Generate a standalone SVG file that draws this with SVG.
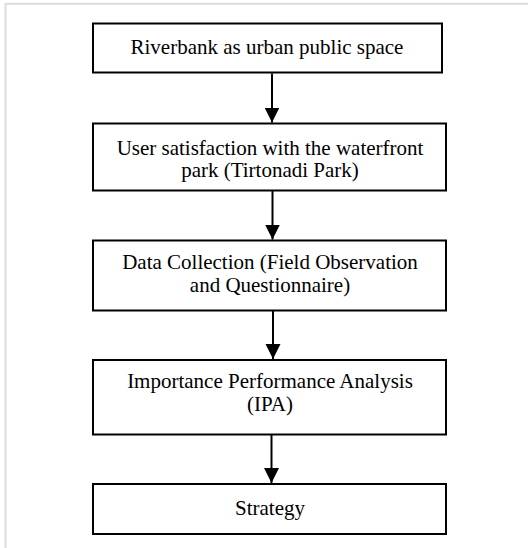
<svg xmlns="http://www.w3.org/2000/svg" width="528" height="548" viewBox="0 0 528 548">
<style>
.box{fill:#fff;stroke:#000;stroke-width:2}
.t{font-family:"Liberation Serif","Times New Roman",serif;font-size:21px;fill:#000;text-anchor:middle}
.c{stroke:#000;stroke-width:2;fill:none}
</style>
<defs>
<marker id="ah" markerUnits="userSpaceOnUse" markerWidth="16" markerHeight="16" viewBox="0 0 16 16" refX="15" refY="8" orient="auto">
<path d="M0,0.5 L15,8 L0,15.5 Z" fill="#000"/>
</marker>
</defs>
<rect width="528" height="548" fill="#fff"/>
<path d="M5.5,548 V3.7 H528" fill="none" stroke="#dcdcdc" stroke-width="2"/>
<g id="connectors">
<line class="c" x1="272" y1="73.5" x2="272" y2="122.5" marker-end="url(#ah)"/>
<line class="c" x1="272.5" y1="191" x2="272.5" y2="239.5" marker-end="url(#ah)"/>
<line class="c" x1="273" y1="311" x2="273" y2="359" marker-end="url(#ah)"/>
<line class="c" x1="271.5" y1="435" x2="271.5" y2="483" marker-end="url(#ah)"/>
</g>
<g id="n1">
<rect class="box" x="93" y="23.5" width="349" height="49"/>
<text class="t" x="267" y="54">Riverbank as urban public space</text>
</g>
<g id="n2">
<rect class="box" x="93" y="123.5" width="353" height="67"/>
<text class="t" x="270" y="155">User satisfaction with the waterfront</text>
<text class="t" x="270" y="177">park (Tirtonadi Park)</text>
</g>
<g id="n3">
<rect class="box" x="93" y="240.5" width="353" height="70"/>
<text class="t" x="270" y="269">Data Collection (Field Observation</text>
<text class="t" x="270" y="292">and Questionnaire)</text>
</g>
<g id="n4">
<rect class="box" x="93" y="360" width="353" height="74.5"/>
<text class="t" x="270" y="388">Importance Performance Analysis</text>
<text class="t" x="270" y="411">(IPA)</text>
</g>
<g id="n5">
<rect class="box" x="93" y="484" width="353" height="50"/>
<text class="t" x="270" y="515">Strategy</text>
</g>
</svg>
